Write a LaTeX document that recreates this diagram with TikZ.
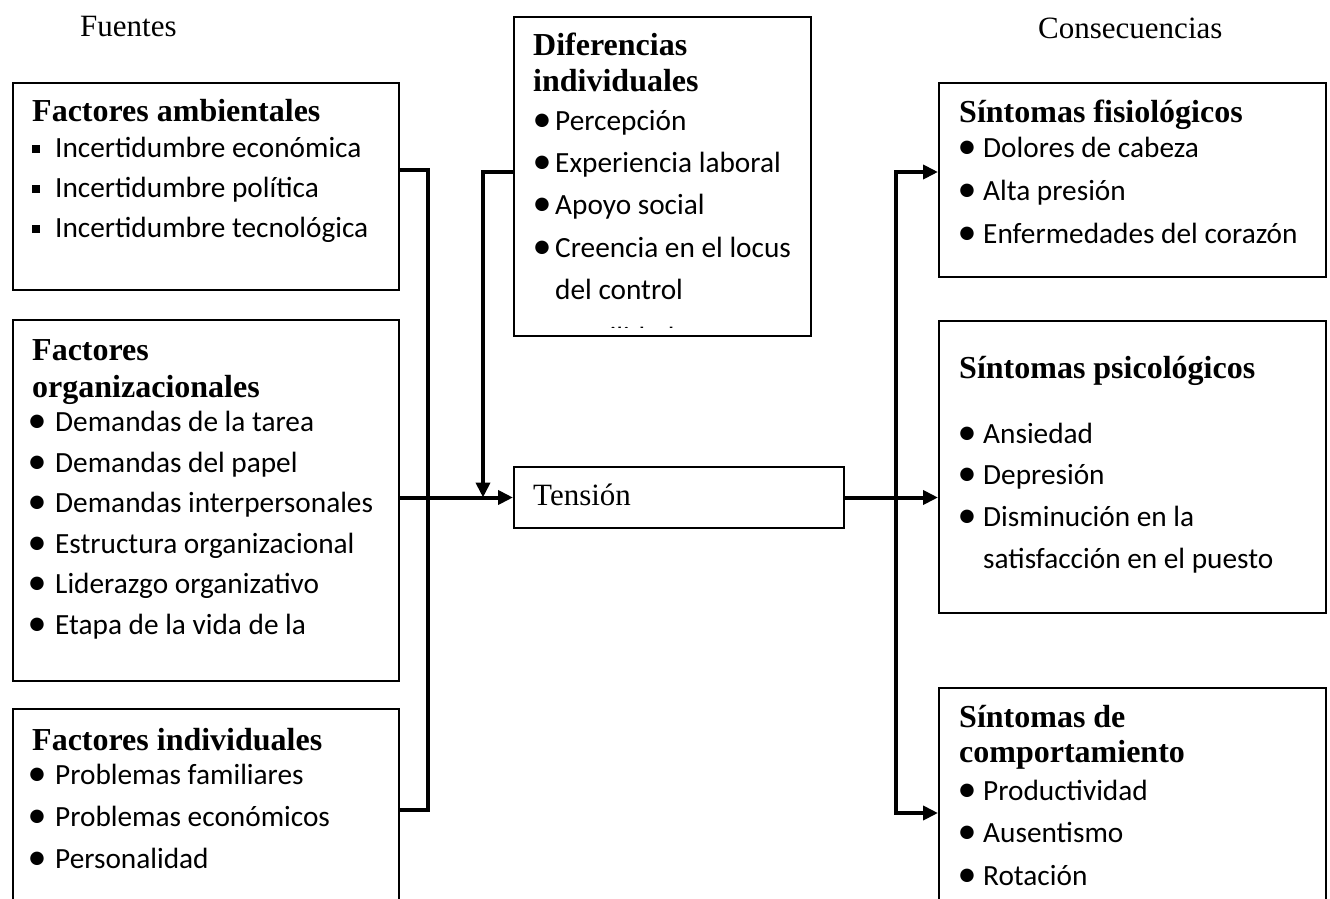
\documentclass[tikz,border=0pt]{standalone}
\usepackage{fontspec}
\setmainfont{Liberation Serif}
\newfontfamily\bodyf{Carlito}
\usetikzlibrary{arrows.meta}

\tikzset{
  box/.style={draw=black, line width=2pt, anchor=north west, inner sep=0pt},
  head/.style={anchor=base west, inner sep=0pt, font=\fontsize{32}{36}\selectfont\bfseries},
  body/.style={anchor=base west, inner sep=0pt, font=\bodyf\fontsize{29.3}{34}\selectfont},
  plain/.style={anchor=base west, inner sep=0pt, font=\fontsize{31}{36}\selectfont},
  bul/.style={inner sep=0pt, font=\bodyf\fontsize{38}{38}\selectfont},
  link/.style={line width=4pt, line join=miter},
  tip/.style={-{Triangle[length=15pt,width=14pt]}},
}
\newcommand\bitem[5]{%
  \node[bul] (#1b) at (#2,#4-7) {•};
  \node[body] (#1) at (#3,#4) {#5};}
\newcommand\sitem[5]{%
  \node[inner sep=0pt] (#1b) at (#2,#4-8) {\rule{7.5pt}{7.5pt}};
  \node[body] (#1) at (#3,#4) {#5};}

\begin{document}
\begin{tikzpicture}[x=1pt,y=-1pt]
\useasboundingbox (0,0) rectangle (1330,899);
\clip (0,0) rectangle (1330,899);

% titles
\node[plain] (fuentes) at (80,37) {Fuentes};
\node[plain] (consec) at (1038,39) {Consecuencias};

% boxes
\node[box, minimum width=386pt, minimum height=207pt] (b1) at (12,82) {};
\node[box, minimum width=386pt, minimum height=361pt] (b2) at (12,319) {};
\node[box, minimum width=386pt, minimum height=230pt] (b3) at (12,708) {};
\node[box, minimum width=297pt, minimum height=319pt] (dif) at (513,16) {};
\node[box, minimum width=330pt, minimum height=61pt] (ten) at (513,466) {};
\node[box, minimum width=387pt, minimum height=194pt] (fis) at (938,82) {};
\node[box, minimum width=387pt, minimum height=292pt] (psi) at (938,320) {};
\node[box, minimum width=387pt, minimum height=250pt] (com) at (938,687) {};

% box 1
\node[head] (h1) at (32,121) {Factores ambientales};
\sitem{a1}{36}{55}{157}{Incertidumbre económica}
\sitem{a2}{36}{55}{197}{Incertidumbre política}
\sitem{a3}{36}{55}{237}{Incertidumbre tecnológica}

% box 2
\begin{scope}
\clip (12,319) rectangle (398,669);
\node[head] (h2a) at (32,360) {Factores};
\node[head] (h2b) at (32,397) {organizacionales};
\bitem{o1}{37}{55}{431}{Demandas de la tarea}
\bitem{o2}{37}{55}{472}{Demandas del papel}
\bitem{o3}{37}{55}{512}{Demandas interpersonales}
\bitem{o4}{37}{55}{553}{Estructura organizacional}
\bitem{o5}{37}{55}{593}{Liderazgo organizativo}
\bitem{o6}{37}{55}{634}{Etapa de la vida de la}
\node[body] (o7) at (55,691) {organización};
\end{scope}

% box 3
\node[head] (h3) at (32,750) {Factores individuales};
\bitem{i1}{37}{55}{784}{Problemas familiares}
\bitem{i2}{37}{55}{826}{Problemas económicos}
\bitem{i3}{37}{55}{868}{Personalidad}

% diferencias
\begin{scope}
\clip (513,16) rectangle (810,327);
\node[head] (hda) at (533,56) {Diferencias};
\node[head] (hdb) at (533,92) {individuales};
\bitem{d1}{542}{555}{130}{Percepción}
\bitem{d2}{542}{555}{172}{Experiencia laboral}
\bitem{d3}{542}{555}{214}{Apoyo social}
\bitem{d4}{542}{555}{257}{Creencia en el locus}
\node[body] (d4b) at (555,299) {del control};
\bitem{d5}{542}{555}{347}{Hostilidad}
\end{scope}

% tension
\node[plain] (tt) at (533,505) {Tensión};

% fisiologicos
\node[head] (hf) at (959,122) {Síntomas fisiológicos};
\bitem{f1}{967}{983}{157}{Dolores de cabeza}
\bitem{f2}{967}{983}{200}{Alta presión}
\bitem{f3}{967}{983}{243}{Enfermedades del corazón}

% psicologicos
\node[head] (hp) at (959,378) {Síntomas psicológicos};
\bitem{p1}{967}{983}{443}{Ansiedad}
\bitem{p2}{967}{983}{484}{Depresión}
\bitem{p3}{967}{983}{526}{Disminución en la}
\node[body] (p3b) at (983,568) {satisfacción en el puesto};

% comportamiento
\node[head] (hca) at (959,727) {Síntomas de};
\node[head] (hcb) at (959,762) {comportamiento};
\bitem{c1}{967}{983}{800}{Productividad}
\bitem{c2}{967}{983}{842}{Ausentismo}
\bitem{c3}{967}{983}{885}{Rotación}

% connectors
\coordinate (jTop) at (428,170);
\coordinate (jBot) at (428,810);
\coordinate (dTop) at (483,172);
\coordinate (rTop) at (896,172);
\coordinate (rBot) at (896,813);

\draw[link] (b1.east |- jTop) -- (jTop) -- (jBot) -- (b3.east |- jBot);
\draw[link, tip] (b2.east |- ten.west) -- (ten.west);
\draw[link, tip] (dif.west |- dTop) -- (dTop) -- (dTop |- ten.west);
\draw[link, tip] (ten.east) -- (psi.west |- ten.east);
\draw[link, {Triangle[length=15pt,width=14pt]}-{Triangle[length=15pt,width=14pt]}]
  (fis.west |- rTop) -- (rTop) -- (rBot) -- (com.west |- rBot);
\end{tikzpicture}
\end{document}
